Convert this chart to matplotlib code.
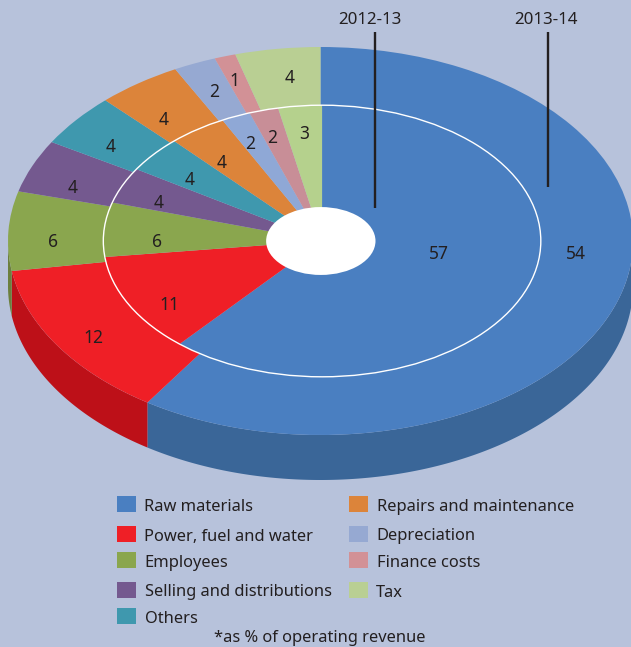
#!/usr/bin/env python3

import numpy as np
from matplotlib import pyplot as plt
from matplotlib.patches import Rectangle

categories = ["Raw materials", "Power, fuel and water", "Employees",
              "Selling and distributions", "Others", "Repairs and maintenance",
              "Depreciation", "Finance costs", "Tax"]
values_2013 = [54, 12, 6, 4, 4, 4, 2, 1, 4]
values_2012 = [57, 11, 6, 4, 4, 4, 2, 2, 3]
years = ["2012-13", "2013-14"]
note = "*as % of operating revenue"

colors_outer = ["#4a7fc1", "#ef1f26", "#8aa64e", "#74598f", "#3f98ae",
                "#dc843a", "#96a9d2", "#d29196", "#b9cf93"]
colors_inner = ["#4a7fc1", "#ef1f26", "#8aa64e", "#74598f", "#3f98ae",
                "#dc843a", "#8fa8d6", "#c88e97", "#b5d18d"]
colors_side = ["#3a6698", "#bd1018", "#6c7f3d"]
bg = "#b7c2db"
ink = "#231f20"

W, H = 631, 647
cx, cy, rx, ry = 320.5, 241, 312.5, 194
depth = 45 / ry
mid_r = 0.70
hole_r = 0.175
inner_shift = 0.005

# label places in pixels
outer_xy = [(576, 254), (93, 338), (53, 242), (73, 188), (111, 147),
            (164, 120), (214, 92), (234, 81), (290, 78)]
inner_xy = [(439, 254), (169, 305), (157, 242), (159, 203), (190, 180),
            (222, 163), (250, 144), (272, 138), (304, 134)]
swatch_xy = [(117, 496), (117, 526), (117, 552), (117, 582), (117, 608),
             (349, 496), (349, 526), (349, 552), (349, 582)]
text_x = [144, 144, 144, 145, 145, 377, 376, 377, 376]
text_y = [507, 537, 563, 592, 619, 507, 536, 563, 593]

plt.rcParams["font.family"] = ["Noto Sans", "DejaVu Sans"]
fig = plt.figure(figsize=(W / 100, H / 100), dpi=100, facecolor=bg)

# the disc, in units of its radius
ax = fig.add_axes([0, 0, 1, 1])

# rim: only the part facing the viewer
start = 0
total = sum(values_2013)
for val, col in zip(values_2013, colors_side):
    a0 = max(start, 90)
    a1 = min(start + val / total * 360, 270)
    start += val / total * 360
    t = np.radians(np.linspace(a0, a1, 200))
    xs = np.r_[np.sin(t), np.sin(t)[::-1]]
    ys = np.r_[np.cos(t), np.cos(t)[::-1] - depth]
    ax.fill(xs, ys, color=col, lw=0, zorder=1)

ax.pie(values_2013, colors=colors_outer, radius=1, startangle=90,
       counterclock=False, wedgeprops=dict(width=1 - mid_r + 0.01, lw=0, zorder=2))
ax.pie(values_2012, colors=colors_inner, radius=mid_r, startangle=90,
       center=(inner_shift, 0), counterclock=False,
       wedgeprops=dict(width=mid_r - hole_r + 0.01, lw=0, zorder=2))
ax.add_patch(plt.Circle((inner_shift, 0), mid_r, fc="none", ec="white", lw=1, zorder=3))
ax.add_patch(plt.Circle((0.001, 0), hole_r, fc="white", lw=0, zorder=3))

ax.set_aspect("auto")
ax.set_xlim(-cx / rx, (W - cx) / rx)
ax.set_ylim((cy - H) / ry, cy / ry)
ax.axis("off")

# everything else, in pixels
px = fig.add_axes([0, 0, 1, 1])
px.set_xlim(0, W)
px.set_ylim(H, 0)
px.axis("off")
px.patch.set_alpha(0)

for val, (x, y) in zip(values_2013, outer_xy):
    px.text(x, y, str(val), fontsize=12.5, color=ink, ha="center", va="center")
for val, (x, y) in zip(values_2012, inner_xy):
    px.text(x, y, str(val), fontsize=12.5, color=ink, ha="center", va="center")

px.plot([375, 375], [32, 208], color=ink, lw=1.7, solid_capstyle="butt")
px.plot([548, 548], [32, 187], color=ink, lw=1.7, solid_capstyle="butt")
px.text(370, 20, years[0], fontsize=12.2, color=ink, ha="center", va="center")
px.text(546, 20, years[1], fontsize=12.2, color=ink, ha="center", va="center")

for name, col, (x, y), tx, ty in zip(categories, colors_outer, swatch_xy, text_x, text_y):
    px.add_patch(Rectangle((x, y), 19, 16, fc=col, lw=0))
    px.text(tx, ty, name, fontsize=11.85, color=ink, ha="left", va="center")
px.text(320, 638, note, fontsize=11.85, color=ink, ha="center", va="center")

fig.savefig("out.png", dpi=100, facecolor=bg)
